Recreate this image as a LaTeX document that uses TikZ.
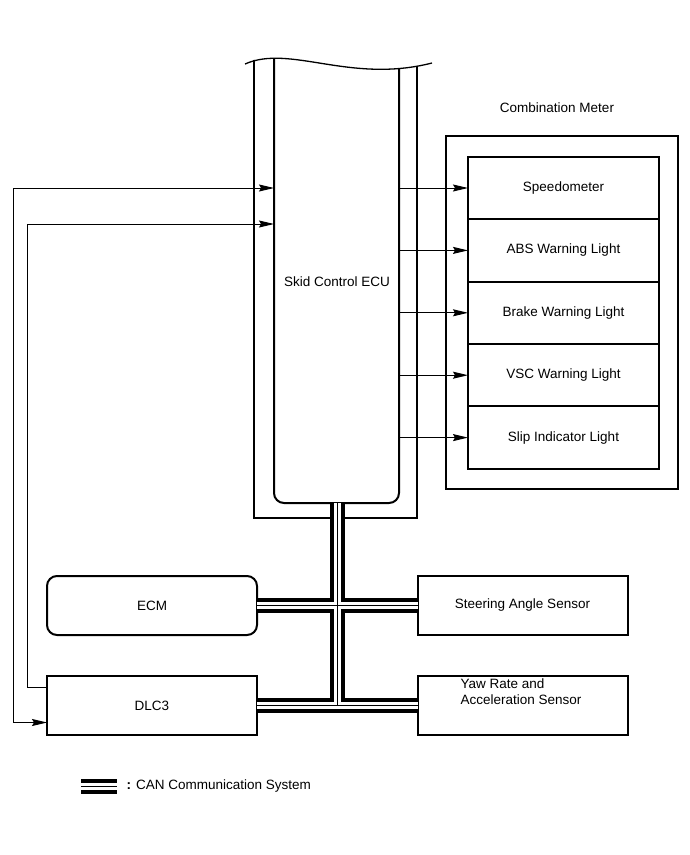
\documentclass[tikz,border=0pt]{standalone}
\usepackage{fontspec}
\setmainfont{Liberation Sans}
\usetikzlibrary{arrows.meta,positioning}

\begin{document}
\begin{tikzpicture}[x=1pt,y=-1pt,
  every node/.style={font=\fontsize{13.5}{16}\selectfont},
  box/.style={draw,line width=2pt,minimum width=210pt,minimum height=59pt,outer sep=0pt},
  lamp/.style={draw,line width=2pt,minimum width=191pt,minimum height=62.4pt,outer sep=0pt},
  wire/.style={line width=1pt},
  tip/.tip={Stealth[length=15pt,width=7pt,inset=2pt]},
  arr/.style={wire,-tip},
  canA/.style={line width=15pt},
  canB/.style={line width=7pt,white},
  canC/.style={line width=1pt}]
\useasboundingbox (0,0) rectangle (690,855);

% skid control ECU
\begin{scope}
\clip (240,64) .. controls (290,44) and (350,84) .. (432,63) -- (440,530) -- (240,530) -- cycle;
\draw[line width=2pt] (254,40) |- (417,518) -- (417,40);
\draw[line width=2pt,rounded corners=10pt] (274,40) |- (399,503) -- (399,40);
\end{scope}
\draw[line width=1.3pt] (245,64) .. controls (290,44) and (350,84) .. (432,63);
\node (ecu) at (337,282) {Skid Control ECU};
\coordinate (ecuL) at (274,282);
\coordinate (ecuR) at (399,282);
\coordinate (ecuB) at (337,503);

% combination meter
\node[draw,line width=2pt,minimum width=232pt,minimum height=353pt] (meter) at (561.5,312.5) {};
\node (meterlbl) at (557,108) {Combination Meter};
\node[lamp] (spd) at (563.5,188) {Speedometer};
\node[lamp,below=0pt of spd] (abs) {ABS Warning Light};
\node[lamp,below=0pt of abs] (brk) {Brake Warning Light};
\node[lamp,below=0pt of brk] (vsc) {VSC Warning Light};
\node[lamp,below=0pt of vsc] (slip) {Slip Indicator Light};
\foreach \n in {spd,abs,brk,vsc,slip}
  \draw[arr] (ecuR |- \n) -- (\n.west);

% other units
\node[box,rounded corners=10pt] (ecm) at (152,605.5) {ECM};
\node[box] (dlc) at (152,705.5) {DLC3};
\node[box] (steer) at (522.5,605.5) {Steering Angle Sensor};
\node[box] (yaw) at (522.5,705.5) {};
\node[align=left,anchor=north west] (yawlbl) at (457,675) {Yaw Rate and\\Acceleration Sensor};

% DLC3 lines
\coordinate (w1) at (13,188);
\coordinate (w2) at (27,224);
\draw[wire,tip-tip] (ecuL |- w1) -- (w1) |- ([yshift=-17pt]dlc.west);
\draw[arr] ([yshift=18pt]dlc.west) -| (w2) -- (ecuL |- w2);

% CAN bus
\foreach \l in {canA,canB,canC}
  \draw[\l] (ecm.east) -- (steer.west) (dlc.east) -- (yaw.west) (ecuB) -- (ecuB |- dlc);

% legend
\coordinate (legA) at (81,786);
\coordinate (legB) at (117,786);
\foreach \l in {canA,canB,canC}
  \draw[\l] (legA) -- (legB);
\node[anchor=west] (leg) at (123,786) {\textbf{:} CAN Communication System};
\end{tikzpicture}
\end{document}
